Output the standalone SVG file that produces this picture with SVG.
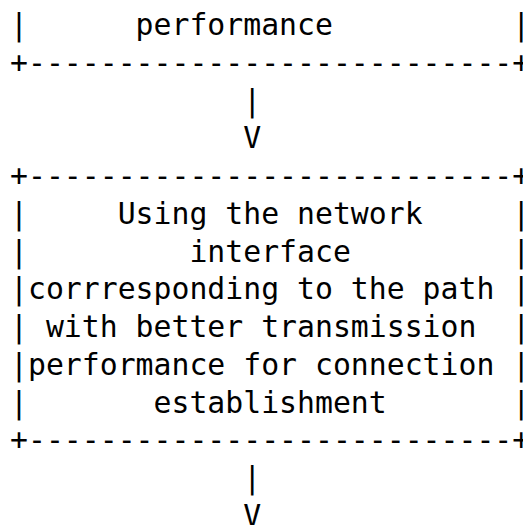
<svg xmlns="http://www.w3.org/2000/svg" width="523" height="525" viewBox="0 0 523 525" xml:space="preserve">
<style>
  .t { font-family: "DejaVu Sans Mono", "Liberation Mono", monospace; font-size: 29.8px; fill: #000; white-space: pre; }
</style>
<rect x="0" y="0" width="523" height="525" fill="#fff"/>
<g id="node-performance">
  <text class="t" x="10" y="35">|      performance          |</text>
  <text class="t" x="10" y="72.75">+---------------------------+</text>
</g>
<g id="connectors">
  <text class="t" x="10" y="110.5">             |</text>
  <text class="t" x="10" y="148.25">             V</text>
  <text class="t" x="10" y="488">             |</text>
  <text class="t" x="10" y="525.75">             V</text>
</g>
<g id="node-using-interface">
  <text class="t" x="10" y="186">+---------------------------+</text>
  <text class="t" x="10" y="223.75">|     Using the network     |</text>
  <text class="t" x="10" y="261.5">|         interface         |</text>
  <text class="t" x="10" y="299.25">|corrresponding to the path |</text>
  <text class="t" x="10" y="337">| with better transmission  |</text>
  <text class="t" x="10" y="374.75">|performance for connection |</text>
  <text class="t" x="10" y="412.5">|       establishment       |</text>
  <text class="t" x="10" y="450.25">+---------------------------+</text>
</g>
</svg>
